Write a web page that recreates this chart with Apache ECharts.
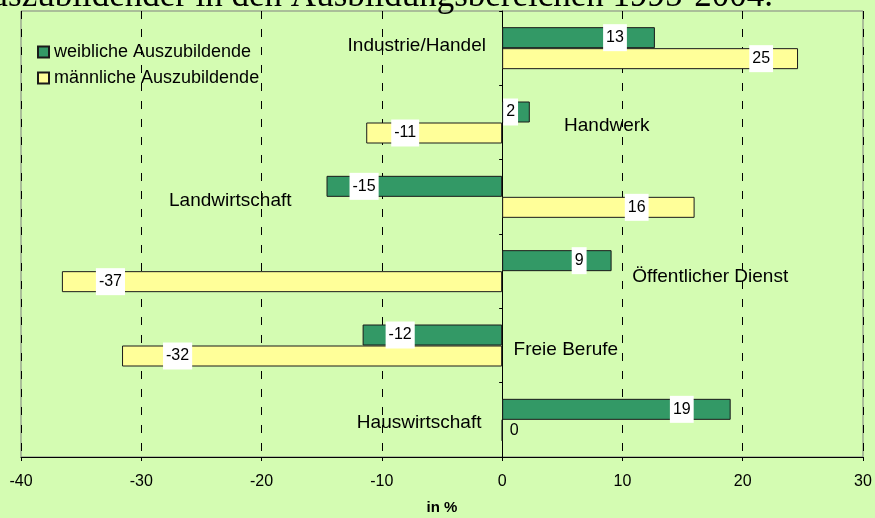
<!DOCTYPE html>
<html>
<head>
<meta charset="utf-8">
<script src="https://cdn.jsdelivr.net/npm/echarts@6/dist/echarts.min.js"></script>
<style>
    html, body { margin: 0; padding: 0; background: #d4fcb2; }
    #chart1 { width: 875px; height: 518px; }
</style>
</head>
<body>
<div id="chart1"></div>
<script>
var categories = ['Industrie/Handel', 'Handwerk', 'Landwirtschaft', 'Öffentlicher Dienst', 'Freie Berufe', 'Hauswirtschaft'];
var weiblich = [12.7, 2.3, -14.6, 9.1, -11.6, 19.0];
var maennlich = [24.6, -11.3, 16.0, -36.6, -31.6, 0];
var xTicks = [-40, -30, -20, -10, 0, 10, 20, 30];
var legendNames = ['weibliche Auszubildende', 'männliche Auszubildende'];
var titleText = 'Auszubildender in den Ausbildungsbereichen 1995-2004.';

// Lage der Bereichsnamen (in Achsenwerten) und Abstand der Werte-Labels (px)
var nameX = [-7.1, 8.7, -22.6, 17.3, 5.3, -6.9];
var nameDy = [-2, 3, 4, 6, 4, 3];
var gapW = [28, 1, 23, 25, 23, 37];
var gapM = [25, 25, 46, 34, 41, 5];

var fontSans = "'Liberation Sans', Arial, sans-serif";
var bgColor = '#d4fcb2';

function barData(values, gaps) {
    var list = [];
    for (var i = 0; i < values.length; i++) {
        var v = values[i];
        var pos = v > 0 ? 'insideRight' : 'insideLeft';
        if (Math.abs(v) < 4) {
            pos = 'insideLeft';
        }
        list.push({
            value: v,
            label: {
                position: pos,
                distance: gaps[i],
                backgroundColor: v === 0 ? 'transparent' : '#ffffff'
            }
        });
    }
    return list;
}

function nameData() {
    var list = [];
    for (var i = 0; i < categories.length; i++) {
        list.push({
            value: [nameX[i], i],
            label: { offset: [0, nameDy[i]] }
        });
    }
    return list;
}

var barLabel = {
    show: true,
    color: '#000',
    fontSize: 16,
    fontFamily: fontSans,
    padding: [6, 3, 5, 3],
    textBorderWidth: 0,
    formatter: function(params) {
        return Math.round(params.value);
    }
};

var chart1 = echarts.init(document.getElementById('chart1'));
var option = {
    animation: false,
    backgroundColor: bgColor,
    textStyle: { fontFamily: fontSans },
    title: {
        text: titleText,
        right: 102,
        top: -21,
        padding: 0,
        textStyle: {
            fontFamily: "'Liberation Serif', 'Times New Roman', serif",
            fontSize: 35,
            fontWeight: 'normal',
            color: '#000'
        }
    },
    legend: {
        data: legendNames,
        orient: 'vertical',
        left: 37,
        top: 43,
        padding: 0,
        itemWidth: 11,
        itemHeight: 11,
        itemGap: 8,
        icon: 'rect',
        textStyle: { fontSize: 18, color: '#000', fontFamily: fontSans }
    },
    grid: {
        left: 21,
        right: 12,
        top: 11,
        bottom: 61,
        show: true,
        backgroundColor: bgColor,
        borderColor: '#808080',
        borderWidth: 1,
        containLabel: false,
        outerBoundsMode: 'none'
    },
    xAxis: {
        type: 'value',
        min: xTicks[0],
        max: xTicks[xTicks.length - 1],
        interval: 10,
        axisLine: { show: true, lineStyle: { color: '#000', width: 1 } },
        axisTick: { show: true, length: 4, lineStyle: { color: '#000' } },
        axisLabel: { fontSize: 16, color: '#000', margin: 17, fontFamily: fontSans },
        splitLine: { show: true, lineStyle: { color: '#000', type: [8, 10], width: 1 } },
        name: 'in %',
        nameLocation: 'middle',
        nameGap: 43,
        nameTextStyle: { fontWeight: 'bold', fontSize: 15, color: '#000', fontFamily: fontSans }
    },
    yAxis: {
        type: 'category',
        data: categories,
        inverse: true,
        axisLine: { show: true, onZero: true, lineStyle: { color: '#000' } },
        axisTick: { show: true, length: 3, lineStyle: { color: '#000' } },
        axisLabel: { show: false },
        splitLine: { show: false }
    },
    series: [{
        name: legendNames[0],
        type: 'bar',
        barWidth: 21,
        barGap: '0%',
        data: barData(weiblich, gapW),
        itemStyle: { color: '#339966', borderColor: '#1a1a1a', borderWidth: 1 },
        label: barLabel
    }, {
        name: legendNames[1],
        type: 'bar',
        barWidth: 21,
        barGap: '0%',
        data: barData(maennlich, gapM),
        itemStyle: { color: '#ffff99', borderColor: '#1a1a1a', borderWidth: 1 },
        label: barLabel
    }, {
        name: 'Bereiche',
        type: 'scatter',
        silent: true,
        symbolSize: 1,
        itemStyle: { color: '#000', opacity: 1 },
        data: nameData(),
        z: 5,
        label: {
            show: true,
            position: 'inside',
            color: '#000',
            opacity: 1,
            textBorderWidth: 0,
            textBorderColor: 'transparent',
            fontSize: 19,
            fontFamily: fontSans,
            formatter: function(params) {
                return categories[params.dataIndex];
            }
        }
    }]
};
chart1.setOption(option);
</script>
</body>
</html>
